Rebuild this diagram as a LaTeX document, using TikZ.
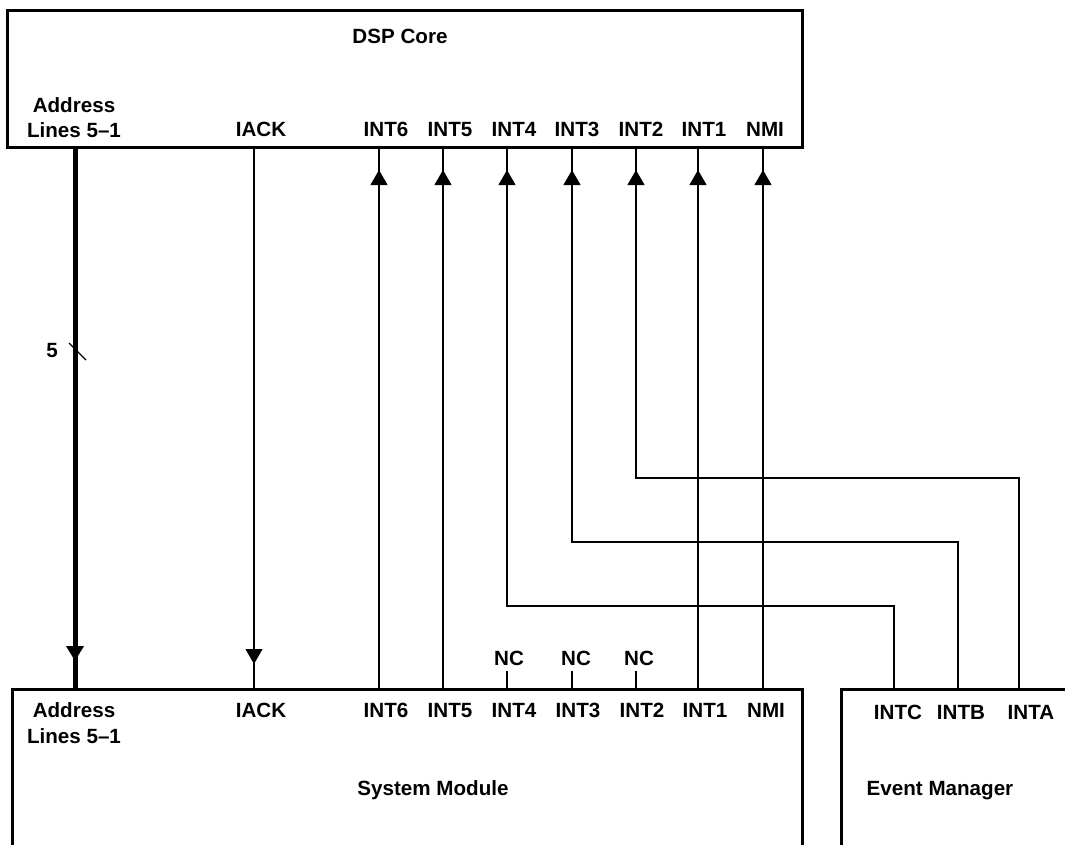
\documentclass[tikz,border=0pt]{standalone}
\usepackage{fontspec}
\setmainfont{Liberation Sans}
\usetikzlibrary{arrows.meta,decorations.markings}
\begin{document}
\begin{tikzpicture}[x=1pt,y=-1pt,
  box/.style={draw,line width=3pt,inner sep=0pt,outer sep=0pt,anchor=north west},
  lbl/.style={inner sep=0pt,anchor=base,font=\fontsize{20.6}{25}\selectfont\bfseries},
  wire/.style={line width=1.1pt},
  bus/.style={line width=5pt},
  tipat/.style={postaction={decorate},decoration={markings,mark=at position #1 with {\arrow{Triangle[width=17pt,length=15pt]}}}},
]
\useasboundingbox (0,0) rectangle (1065,844);

% boxes
\node[box,minimum width=795pt,minimum height=137pt] (dsp) at (7,10) {};
\node[box,minimum width=790pt,minimum height=200pt] (sm) at (12,689) {};
\node[box,minimum width=260pt,minimum height=200pt] (em) at (841,689) {};

% column coordinates
\coordinate (cA) at (75,0);
\coordinate (cI) at (254,0);
\coordinate (c6) at (379,0);
\coordinate (c5) at (443,0);
\coordinate (c4) at (507,0);
\coordinate (c3) at (572,0);
\coordinate (c2) at (636,0);
\coordinate (c1) at (698,0);
\coordinate (cN) at (763,0);
\coordinate (cC) at (894,0);
\coordinate (cB) at (958,0);
\coordinate (cX) at (1019,0);
\coordinate (h2) at (0,478);
\coordinate (h3) at (0,542);
\coordinate (h4) at (0,606);

% top labels
\node[lbl] (tdsp) at (400,43) {DSP Core};
\node[lbl] (taddr1) at (74,112) {Address};
\node[lbl] (taddr2) at (74,137) {Lines 5--1};
\node[lbl] (tiack) at (261,136) {IACK};
\node[lbl] (tint6) at (386,136) {INT6};
\node[lbl] (tint5) at (450,136) {INT5};
\node[lbl] (tint4) at (514,136) {INT4};
\node[lbl] (tint3) at (577,136) {INT3};
\node[lbl] (tint2) at (641,136) {INT2};
\node[lbl] (tint1) at (704,136) {INT1};
\node[lbl] (tnmi) at (765,136) {NMI};

% bottom labels
\node[lbl] (baddr1) at (74,717) {Address};
\node[lbl] (baddr2) at (74,743) {Lines 5--1};
\node[lbl] (biack) at (261,717) {IACK};
\node[lbl] (bint6) at (386,717) {INT6};
\node[lbl] (bint5) at (450,717) {INT5};
\node[lbl] (bint4) at (514,717) {INT4};
\node[lbl] (bint3) at (578,717) {INT3};
\node[lbl] (bint2) at (642,717) {INT2};
\node[lbl] (bint1) at (705,717) {INT1};
\node[lbl] (bnmi) at (766,717) {NMI};
\node[lbl] (nc4) at (509,665) {NC};
\node[lbl] (nc3) at (576,665) {NC};
\node[lbl] (nc2) at (639,665) {NC};
\node[lbl] (bsys) at (433,795) {System Module};
\node[lbl] (intc) at (898,719) {INTC};
\node[lbl] (intb) at (961,719) {INTB};
\node[lbl] (inta) at (1031,719) {INTA};
\node[lbl] (bem) at (940,795) {Event Manager};
\node[lbl] (five) at (52,357) {5};

% address bus
\draw[bus,tipat=-28pt] (dsp.south -| cA) -- (sm.north -| cA);
\draw[wire] (69,343) -- (86,360);
% IACK
\draw[wire,tipat=-25pt] (dsp.south -| cI) -- (sm.north -| cI);
% direct interrupts
\draw[wire,tipat=-23pt] (sm.north -| c6) -- (dsp.south -| c6);
\draw[wire,tipat=-23pt] (sm.north -| c5) -- (dsp.south -| c5);
\draw[wire,tipat=-23pt] (sm.north -| c1) -- (dsp.south -| c1);
\draw[wire,tipat=-23pt] (sm.north -| cN) -- (dsp.south -| cN);
% event manager interrupts
\draw[wire,tipat=-23pt] (em.north -| cC) -- (cC |- h4) -- (c4 |- h4) -- (dsp.south -| c4);
\draw[wire,tipat=-23pt] (em.north -| cB) -- (cB |- h3) -- (c3 |- h3) -- (dsp.south -| c3);
\draw[wire,tipat=-23pt] (em.north -| cX) -- (cX |- h2) -- (c2 |- h2) -- (dsp.south -| c2);
% NC stubs
\draw[wire] ([yshift=-6pt]nc4.south -| c4) -- (sm.north -| c4);
\draw[wire] ([yshift=-6pt]nc3.south -| c3) -- (sm.north -| c3);
\draw[wire] ([yshift=-6pt]nc2.south -| c2) -- (sm.north -| c2);
\end{tikzpicture}
\end{document}
